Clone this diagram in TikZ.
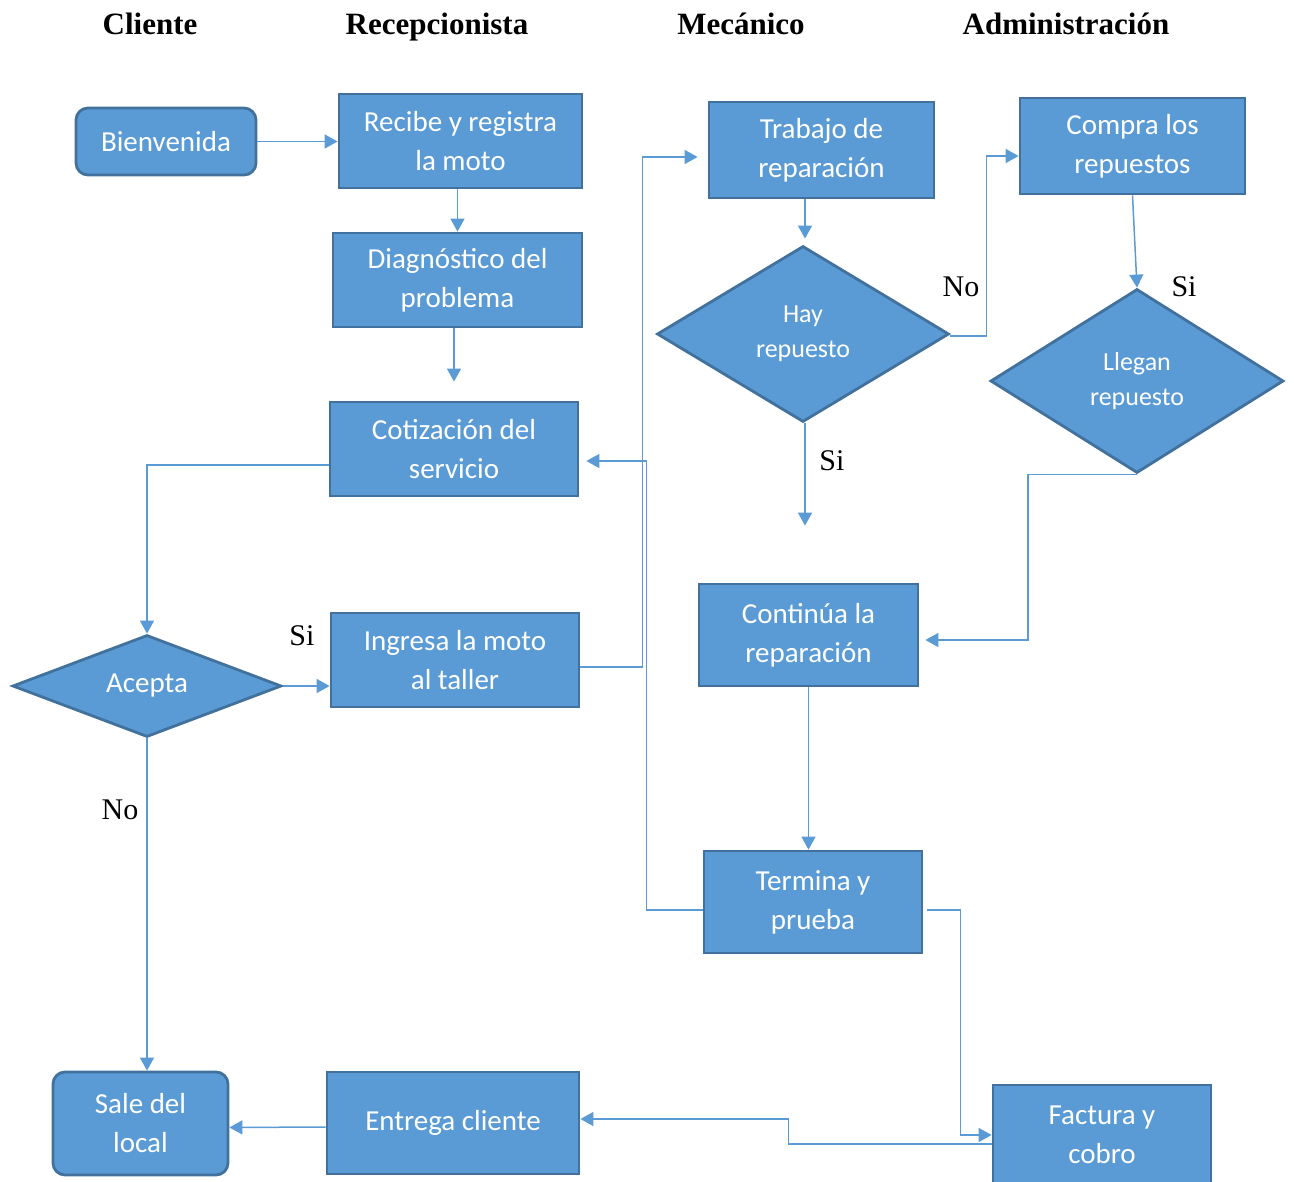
\documentclass[tikz,border=0pt]{standalone}
\usepackage{fontspec}
\setmainfont{Liberation Serif}
\setsansfont{Carlito}
\usetikzlibrary{arrows.meta,shapes.geometric,positioning}
\definecolor{BoxClr}{HTML}{5B9BD5}
\definecolor{EdgeClr}{HTML}{41719C}

\begin{document}
\begin{tikzpicture}[x=1pt,y=-1pt,
  proc/.style={draw=EdgeClr,line width=2.8pt,fill=BoxClr,text=white,inner sep=0pt,
    align=center,font=\sffamily\fontsize{29}{39}\selectfont},
  term/.style={proc,rounded corners=12pt},
  decis/.style={proc,diamond,aspect=2,font=\sffamily\fontsize{26}{35}\selectfont},
  head/.style={anchor=base,font=\bfseries\fontsize{31}{36}\selectfont},
  lbl/.style={font=\fontsize{30}{36}\selectfont},
  flow/.style={draw=BoxClr,line width=1.5pt,-{Triangle[width=14pt,length=13pt]}}]
\useasboundingbox (0,0) rectangle (1294,1182);

\node[head] (hcli) at (150,35) {Cliente};
\node[head] (hrec) at (437,35) {Recepcionista};
\node[head] (hmec) at (741,35) {Mecánico};
\node[head] (hadm) at (1066,35) {Administración};

\node[term,minimum width=180pt,minimum height=67pt] (bienv) at (166,141.5) {Bienvenida};
\node[proc,minimum width=243pt,minimum height=94pt] (recibe) at (460.5,141) {Recibe y registra\\la moto};
\node[proc,minimum width=249pt,minimum height=94pt] (diag) at (457.5,280) {Diagnóstico del\\problema};
\node[proc,minimum width=248pt,minimum height=94pt] (cotiz) at (454,449) {Cotización del\\servicio};
\node[decis,minimum width=269pt,minimum height=102pt,font=\sffamily\fontsize{29}{39}\selectfont] (acepta) at (147,686) {Acepta};
\node[proc,minimum width=248pt,minimum height=94pt] (ingresa) at (455,660) {Ingresa la moto\\al taller};

\node[proc,minimum width=225pt,minimum height=96pt] (trabajo) at (821.5,150) {Trabajo de\\reparación};
\node[decis,minimum width=292pt,minimum height=176pt] (hay) at (803,334) {Hay\\repuesto};
\node[proc,minimum width=225pt,minimum height=96pt] (compra) at (1132.5,146) {Compra los\\repuestos};
\node[decis,minimum width=293pt,minimum height=184pt] (llegan) at (1137,381) {Llegan\\repuesto};
\node[proc,minimum width=219pt,minimum height=102pt] (continua) at (808.5,635) {Continúa la\\reparación};
\node[proc,minimum width=218pt,minimum height=102pt] (termina) at (813,902) {Termina y\\prueba};

\node[term,minimum width=175pt,minimum height=103pt] (sale) at (140.5,1123.5) {Sale del\\local};
\node[proc,minimum width=252pt,minimum height=102pt] (entrega) at (453,1123) {Entrega cliente};
\node[proc,minimum width=218pt,minimum height=100pt] (factura) at (1102,1135) {Factura y\\cobro};

\node[lbl] (lno1) at (961,287) {No};
\node[lbl] (lsi1) at (1184,287) {Si};
\node[lbl] (lsi2) at (832,461) {Si};
\node[lbl] (lsi3) at (302,636) {Si};
\node[lbl] (lno2) at (120,810) {No};

\draw[flow] (bienv.east) -- (bienv.east -| recibe.west);
\draw[flow] (diag.north |- recibe.south) -- (diag.north);
\draw[flow,shorten >=19pt] ([xshift=-3.5pt]diag.south) -- ([xshift=-3.5pt]diag.south |- cotiz.north);
\draw[flow] ([yshift=-16pt]cotiz.west) -| (acepta.north);
\draw[flow] (acepta.east) -- (acepta.east -| ingresa.west);
\draw[flow] (acepta.south) -- (acepta.south |- sale.north);
\draw[flow] ([yshift=-7pt]ingresa.east) -- ++(62,0) |- ([xshift=-10pt,yshift=-7pt]trabajo.west);

\draw[flow,shorten >=6pt] ([xshift=2pt]hay.north |- trabajo.south) -- ([xshift=2pt]hay.north);
\draw[flow] ([yshift=-2pt]hay.east) -- ++(36,0) |- ([yshift=-10pt]compra.west);
\draw[flow] (compra.south) -- (llegan.north);
\draw[flow,shorten >=57pt] ([xshift=2pt]hay.south) -- ([xshift=2pt]hay.south |- continua.north);
\draw[flow] (llegan.south) -- ++(-109,0) |- ([xshift=6pt,yshift=-5pt]continua.east);
\draw[flow] (continua.south) -- (continua.south |- termina.north);
\draw[flow] ([yshift=-8pt]termina.west) -- ++(-56,0) |- ([xshift=7pt,yshift=-12pt]cotiz.east);
\draw[flow] ([xshift=4pt,yshift=-8pt]termina.east) -- ++(33,0) |- (factura.west);

\draw[flow] ([yshift=-9pt]factura.west) -- ++(-203,0) |- ([yshift=4pt]entrega.east);
\draw[flow] ([yshift=-4pt]entrega.west) -- ([yshift=-4pt]sale.east);

\end{tikzpicture}
\end{document}
